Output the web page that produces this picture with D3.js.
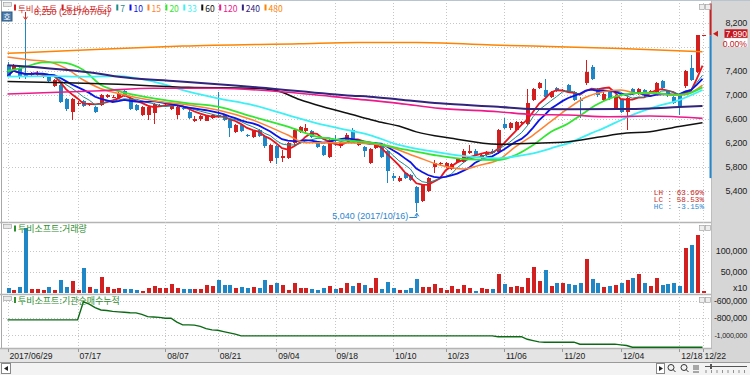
<!DOCTYPE html>
<html><head><meta charset="utf-8">
<script src="https://cdn.jsdelivr.net/npm/d3@7/dist/d3.min.js"></script>
<style>html,body{margin:0;padding:0;background:#fff;overflow:hidden}svg{display:block}</style>
</head><body>
<svg id="chart" width="750" height="375"></svg>
<script>
// ---------------- DATA ----------------
const stockName = "투비소프트";
const openP = [7490,7420,7440,7330,7340,7330,7300,7290,7150,7160, 6930,6720,6840,6890,6830,6800,6830,6960,6960,6950,
 7070,6940,6830,6660,6670,6690,6810,6810,6760,6660, 6780,6720,6570,6590,6570,6620,6660,6660,6580,6380,
 6490,6330,6300,6410,6310,5890,6140,5950,5950,6190, 6380,6390,6400,6190,6150,5970,6240,6140,6250,6410,
 6160,6130,5870,6110,6160,6060,5640,5570,5690,5660, 5460,5230,5400,5800,5850,5800,5760,5880,5880,6030,
 6070,5940,6000,6070,6040,6520,6440,6410,6530,6520, 6910,7110,7080,6970,7110,7070,7160,7050,6910,7190,
 7460,7100,6910,7050,6780,6910,6720,7100,7020,7080, 7040,7050,7230,7060,6970,6990,7140,7450,7380,7990];
const highP = [7540,7520,7460,8250,7380,7390,7370,7310,7270,7180, 6950,6950,6890,6910,6870,6820,7010,7020,6990,7040,
 7090,6950,6850,6820,6810,6870,6850,6850,6850,6820, 6800,6740,6640,6670,6670,6680,7050,6680,6590,6520,
 6510,6350,6420,6430,6330,6180,6160,6080,6210,6430, 6480,6510,6420,6210,6170,6260,6330,6220,6360,6440,
 6270,6150,6120,6210,6180,6080,5690,5640,5710,5680, 5480,5520,5630,5910,5880,5880,5870,5950,6090,6170,
 6090,6020,6070,6090,6430,6610,6550,6570,6560,7100, 7120,7210,7270,7070,7130,7100,7180,7070,6970,7580,
 7490,7120,7040,7070,6990,6930,6960,7120,7120,7100, 7080,7210,7250,7080,6990,7010,7410,7670,8000,7990];
const lowP = [7290,7400,7270,7270,7320,7310,7280,7200,7130,6860, 6730,6580,6820,6800,6810,6700,6810,6940,6940,6940,
 6960,6750,6730,6640,6580,6520,6790,6790,6740,6600, 6740,6600,6540,6570,6560,6600,6610,6560,6300,6360,
 6380,6290,6280,6290,6120,5870,5850,5880,5930,6170, 6360,6370,6280,6110,5980,5950,6150,6120,6230,6250,
 6140,5960,5850,6090,5950,5530,5560,5550,5590,5560, 5040,5210,5380,5690,5830,5780,5740,5860,5860,6010,
 5980,5920,5980,6010,6020,6430,6420,6390,6510,6500, 6890,7090,6950,6950,7040,7060,7030,6890,6610,7170,
 7250,6970,6890,6920,6760,6700,6420,7000,7000,6980, 7020,7030,7090,6970,6840,6660,7120,7230,7360,7990];
const closeP = [7310,7490,7300,7290,7350,7360,7350,7230,7250,6880, 6760,6930,6870,6820,6850,6720,6990,7000,6970,7020,
 6980,6770,6750,6800,6790,6850,6830,6830,6830,6800, 6760,6610,6600,6650,6650,6660,6630,6580,6440,6500,
 6400,6310,6400,6310,6140,6160,5950,5980,6190,6410, 6460,6440,6300,6130,6000,6240,6230,6200,6330,6270,
 6250,6070,6100,6190,5970,5730,5620,5620,5610,5580, 5190,5500,5610,5860,5860,5860,5850,5930,6070,6070,
 6000,6000,6050,6030,6410,6450,6530,6550,6540,6860, 7100,7190,6970,7050,7060,7080,7050,6910,6890,7380,
 7270,6990,7020,6940,6970,6720,6940,7020,7100,7000, 7060,7190,7110,6990,6860,6800,7390,7250,7990,7990];
const volume = [11900,7100,13500,152400,7900,9500,5600,13500,7100,28600, 13500,27000,7100,58700,13500,9500,37300,13500,9500,11100,
 9500,9500,7100,3200,11100,15900,11100,11100,19800,11900, 9500,9500,7900,7900,19000,15100,29400,18300,18300,11900,
 13500,10300,13500,10300,30200,17500,23800,18300,5600,22200, 11900,11900,8700,7100,10300,15100,8700,10300,23000,15100,
 22200,18300,11900,34900,8700,24600,11100,5600,5600,10300, 32500,13500,13500,20600,10300,5600,15100,9500,19000,11900,
 4000,10300,9500,9500,42900,20600,13500,15900,13500,34900, 61100,27800,54000,15100,23000,23000,20600,17500,23000,80200,
 31000,22200,13500,14600,16900,22300,29200,33800,43000,23000, 14600,35400,18500,20000,23000,15400,105000,114000,137000,3000];
const instCum = [-824000,-824000,-824000,-824000,-824000,-824000,-824000,-824000,-824000,-824000,
 -824000,-824000,-824000,-612000,-640000,-680000,-708000,-715000,-725000,-730000,
 -735000,-740000,-742000,-760000,-786000,-790000,-795000,-805000,-805000,-850000,
 -882000,-882000,-885000,-900000,-925000,-940000,-945000,-960000,-975000,-990000,
 -1010000,-1010000,-1010000,-1010000,-1010000,-1010000,-1010000,-1010000,-1010000,-1010000,
 -1010000,-1010000,-1010000,-1010000,-1010000,-1010000,-1010000,-1010000,-1010000,-1010000,
 -1010000,-1010000,-1010000,-1010000,-1010000,-1010000,-1010000,-1010000,-1010000,-1010000,
 -1010000,-1010000,-1010000,-1010000,-1010000,-1010000,-1010000,-1010000,-1010000,-1010000,
 -1010000,-1010000,-1010000,-1010000,-1020000,-1020000,-1020000,-1020000,-1020000,-1050000,
 -1065000,-1080000,-1084000,-1084000,-1084000,-1084000,-1084000,-1084000,-1107000,-1107000,
 -1107000,-1107000,-1107000,-1107000,-1107000,-1115000,-1123000,-1142000,-1142000,-1142000,
 -1142000,-1142000,-1142000,-1142000,-1142000,-1142000,-1142000,-1142000,-1142000,-1142000];
// long moving averages as [day index, value]
const ma15 = [[0,7630],[4,7580],[7,7550],[10,7440],[13,7245],[16,7100],[19,7020],[25,6900],[31,6830],[36,6745],[42,6578],[48,6328],[51,6200],[55,6200],[59,6195],[64,6160],[70,5967],[74,5828],[78,5760],[81,5830],[84,5911],[87,6133],[90,6328],[93,6550],[96,6772],[99,6957],[102,7050],[105,7078],[108,7022],[111,7022],[114,6990],[116,7000],[119,7161]];
const ma20 = [[0,7395],[3,7460],[6,7540],[9,7540],[13,7411],[16,7161],[19,7060],[25,6940],[31,6856],[36,6800],[42,6633],[48,6467],[53,6300],[59,6228],[62,6207],[67,6107],[73,5995],[79,5923],[84,5912],[87,5995],[90,6162],[93,6380],[96,6520],[98,6650],[101,6840],[104,6967],[107,7022],[110,7033],[114,7000],[116,7010],[119,7122]];
const ma33 = [[0,7300],[7,7311],[13,7300],[19,7311],[25,7217],[31,7050],[36,6940],[42,6828],[48,6661],[53,6522],[59,6395],[62,6328],[67,6162],[73,6050],[79,5967],[84,5940],[88,5990],[90,6023],[94,6133],[96,6190],[100,6360],[102,6440],[106,6620],[108,6700],[111,6800],[115,6911],[119,7078]];
const ma60 = [[0,7220],[10,7200],[19,7173],[31,7123],[42,7107],[46,7070],[50,6920],[54,6800],[59,6670],[62,6590],[64,6540],[67,6478],[70,6380],[76,6273],[84,6173],[90,6190],[96,6217],[101,6290],[106,6360],[110,6383],[115,6470],[119,6533]];
const ma120 = [[0,7011],[16,7067],[25,7107],[36,7107],[48,7040],[59,6935],[67,6856],[74,6772],[84,6717],[90,6670],[96,6661],[103,6633],[110,6645],[119,6606]];
const ma240 = [[0,7490],[16,7345],[19,7300],[29,7225],[36,7173],[43,7122],[59,6983],[62,6967],[67,6922],[74,6856],[84,6800],[90,6760],[96,6756],[105,6761],[110,6772],[114,6789],[119,6811]];
const ma480 = [[0,7690],[16,7757],[30,7810],[50,7850],[60,7870],[70,7872],[83,7828],[90,7811],[105,7772],[119,7717]];
const tickIdx = [0,12,27,36,46,56,66,75,85,95,105,115,119];
const tickLab = ["2017/06/29","07/17","08/07","08/21","09/04","09/18","10/10","10/23","11/06","11/20","12/04","12/18","12/22"];
const priceTicks = [5400,5800,6200,6600,7000,7400,7800,8200];
const volTicks = [50000,100000];
const instTicks = [-1000000,-800000,-600000];
const dateHigh = "2017/07/04", dateLow = "2017/10/16";
const rangeBar = [8520, 5610];
const maPeriods = [5,7,10,15,20,33,60,120,240,480];
const maColors = ["#e8141e","#1f8a8a","#0a14e6","#ff8232","#32e632","#3cf0f5","#111111","#ee1a8c","#32237d","#ff8200"];

// ---------------- SETUP ----------------
const N = closeP.length;
const svg = d3.select("#chart");
const fmt = d3.formatLocale({decimal:".", thousands:",", grouping:[3], currency:["",""], minus:"-"}).format(",");
const NUMF = "'Liberation Sans', Arial, sans-serif";
const KRF = "'Noto Sans CJK KR', sans-serif";
const UP = "#d21f1f", DN = "#1f87c5";

const x = d3.scaleLinear().domain([0, N-1]).range([7.5, 702.5]);
const yP = d3.scaleLinear().domain([5400, 8200]).range([190.7, 22.7]);
const yV = d3.scaleLinear().domain([0, 100000]).range([292.5, 250.5]);
const yI = d3.scaleLinear().domain([-1000000, -600000]).range([335, 300.7]);

// backgrounds
svg.append("rect").attr("width",750).attr("height",375).attr("fill","#ffffff");
svg.append("rect").attr("x",712).attr("y",0).attr("width",38).attr("height",362).attr("fill","#d6d6d6");
svg.append("rect").attr("x",0).attr("y",348).attr("width",712).attr("height",14).attr("fill","#e4e4e4");
svg.append("rect").attr("x",0).attr("y",362).attr("width",750).attr("height",13).attr("fill","#f3f3f3");
svg.append("line").attr("x1",0).attr("x2",750).attr("y1",362.5).attr("y2",362.5).attr("stroke","#9a9a9a");
svg.append("line").attr("x1",0).attr("x2",750).attr("y1",0.5).attr("y2",0.5).attr("stroke","#b8c4d0");
svg.append("line").attr("x1",1.5).attr("x2",1.5).attr("y1",0).attr("y2",348).attr("stroke","#a8a8a8");
[222.5, 294.5, 348.5].forEach(yy => svg.append("line").attr("x1",0).attr("x2",712).attr("y1",yy).attr("y2",yy)
  .attr("stroke","#b4b4b4").attr("stroke-width",1.5));
svg.append("line").attr("x1",711.5).attr("x2",711.5).attr("y1",0).attr("y2",348).attr("stroke","#bdbdbd");

// grids
const grid = svg.append("g").attr("stroke","#c6c6c6").attr("stroke-dasharray","1,2").attr("shape-rendering","crispEdges");
tickIdx.forEach(t => grid.append("line").attr("x1",Math.round(x(t))+0.5).attr("x2",Math.round(x(t))+0.5).attr("y1",3).attr("y2",348));
priceTicks.forEach(p => grid.append("line").attr("x1",3).attr("x2",711).attr("y1",Math.round(yP(p))+0.5).attr("y2",Math.round(yP(p))+0.5));
volTicks.forEach(v => grid.append("line").attr("x1",3).attr("x2",711).attr("y1",Math.round(yV(v))+0.5).attr("y2",Math.round(yV(v))+0.5));
instTicks.forEach(v => grid.append("line").attr("x1",3).attr("x2",711).attr("y1",Math.round(yI(v))+0.5).attr("y2",Math.round(yI(v))+0.5));

// clip for main panel
svg.append("clipPath").attr("id","mainClip").append("rect").attr("x",3).attr("y",3).attr("width",708).attr("height",219);

// ---------------- CANDLES ----------------
const idx = d3.range(N);
const cg = svg.append("g").attr("clip-path","url(#mainClip)").attr("shape-rendering","crispEdges");
idx.forEach(i => {
  const col = closeP[i] >= openP[i] ? UP : DN;
  const cx = Math.round(x(i));
  cg.append("line").attr("x1",cx+0.5).attr("x2",cx+0.5).attr("y1",yP(highP[i])).attr("y2",yP(lowP[i])).attr("stroke",col);
  const top = yP(Math.max(openP[i], closeP[i])), bot = yP(Math.min(openP[i], closeP[i]));
  cg.append("rect").attr("x",cx-1.5).attr("y",top).attr("width",4).attr("height",Math.max(1,bot-top)).attr("fill",col);
});

// ---------------- MOVING AVERAGES ----------------
const sma = (arr, n) => arr.map((_, i) => d3.mean(arr.slice(Math.max(0, i-n+1), i+1)));
const lineC = d3.line().x((d,i) => x(i)).y(d => yP(d));
const lineS = d3.line().x(d => x(d[0])).y(d => yP(d[1])).curve(d3.curveMonotoneX);
const mg = svg.append("g").attr("clip-path","url(#mainClip)").attr("fill","none");
const sampled = {15:ma15, 20:ma20, 33:ma33, 60:ma60, 120:ma120, 240:ma240, 480:ma480};
const widths = {5:1.8, 7:1, 10:1.8, 15:1.5, 20:1.8, 33:1.8, 60:1.5, 120:1.6, 240:2, 480:1.5};
maPeriods.forEach((n, k) => {
  const d = sampled[n] ? lineS(sampled[n]) : lineC(sma(closeP, n));
  mg.append("path").attr("d", d).attr("stroke", maColors[k]).attr("stroke-width", widths[n]);
});

// ---------------- HIGH / LOW ANNOTATIONS ----------------
const iH = d3.maxIndex(highP), iL = d3.minIndex(lowP);
const hiCol = "#c8281e", loCol = "#2c86cf";
svg.append("text").attr("x", x(iH)+9).attr("y", 15).attr("font-family",NUMF).attr("font-size","9px").attr("fill",hiCol)
  .text(fmt(highP[iH]) + " (" + dateHigh + ")");
svg.append("path").attr("d", `M${x(iH)+0.5},12V${yP(highP[iH])-1}`).attr("stroke",hiCol).attr("fill","none");
svg.append("path").attr("d", `M${x(iH)-1.5},${yP(highP[iH])-3}L${x(iH)+0.5},${yP(highP[iH])}L${x(iH)+2.5},${yP(highP[iH])-3}`).attr("stroke",hiCol).attr("fill","none");
svg.append("text").attr("x", x(iL)-8).attr("y", 219).attr("text-anchor","end").attr("font-family",NUMF)
  .attr("font-size","9px").attr("fill",loCol).text(fmt(lowP[iL]) + " (" + dateLow + ")");
svg.append("path").attr("d", `M${x(iL)-7},217.5H${x(iL)+0.5}V${yP(lowP[iL])+1}`).attr("stroke",loCol).attr("fill","none");
svg.append("path").attr("d", `M${x(iL)-1.5},${yP(lowP[iL])+4}L${x(iL)+0.5},${yP(lowP[iL])+1}L${x(iL)+2.5},${yP(lowP[iL])+4}`).attr("stroke",loCol).attr("fill","none");

// LH / LC / HC
const lastC = closeP[N-1];
const stats = [
  ["LH", (highP[iH]/lowP[iL]-1)*100, "#c8281e"],
  ["LC", (lastC/lowP[iL]-1)*100, "#c8281e"],
  ["HC", (lastC/highP[iH]-1)*100, "#2c86cf"]];
stats.forEach((s, k) => svg.append("text").attr("x",704).attr("y",195+k*7.2).attr("text-anchor","end")
  .attr("font-family","'Liberation Mono', monospace").attr("font-size","7.6px").attr("fill",s[2])
  .text(s[0] + " : " + s[1].toFixed(2) + "%"));

// ---------------- VOLUME ----------------
const vg = svg.append("g").attr("shape-rendering","crispEdges");
idx.forEach(i => {
  const col = closeP[i] >= openP[i] ? UP : DN;
  const cx = Math.round(x(i));
  vg.append("rect").attr("x",cx-1.5).attr("y",yV(volume[i])).attr("width",4.5)
    .attr("height",Math.max(0.5, yV(0)-yV(volume[i]))).attr("fill",col);
});

// ---------------- INSTITUTION CUMULATIVE ----------------
svg.append("path").attr("d", d3.line().x((d,i)=>x(i)).y(d=>yI(d))(instCum))
  .attr("fill","none").attr("stroke","#0b6a14").attr("stroke-width",1.4);

// ---------------- RIGHT AXES ----------------
const curY = yP(lastC);
const ax = svg.append("g").attr("font-family",NUMF).attr("fill","#222")
  .attr("text-anchor","end").attr("letter-spacing","-0.2px");
function axLabel(yy, s) {
  const t = ax.append("text").attr("x",747).attr("y",yy).attr("font-size","9px").text(s);
  const w = t.node().getComputedTextLength();
  if (w > 33) t.attr("font-size", (9*33/w).toFixed(2) + "px");
}
priceTicks.filter(p => Math.abs(yP(p)-curY) > 12).forEach(p => axLabel(yP(p)+3.3, fmt(p)));
volTicks.forEach(v => axLabel(yV(v)+3.3, fmt(v)));
axLabel(291, "x10");
instTicks.forEach(v => axLabel(yI(v)+3.3, fmt(v)));

// price range bar and current price tag
svg.append("line").attr("x1",710.5).attr("x2",710.5).attr("y1",yP(rangeBar[0])).attr("y2",curY).attr("stroke","#c81e1e").attr("stroke-width",2);
svg.append("line").attr("x1",710.5).attr("x2",710.5).attr("y1",curY).attr("y2",yP(rangeBar[1])).attr("stroke","#2288cc").attr("stroke-width",2);
svg.append("path").attr("d",`M713,${curY-1.5}L718,${curY-4.5}L718,${curY+1.5}Z`).attr("fill","#c81e1e");
svg.append("rect").attr("x",724.5).attr("y",curY-6).attr("width",23).attr("height",8.5).attr("fill","#c4161c");
svg.append("text").attr("x",747).attr("y",curY+1.3).attr("text-anchor","end").attr("font-family",NUMF).attr("font-size","8.6px")
  .attr("fill","#fff").text(fmt(lastC));
svg.append("rect").attr("x",724.5).attr("y",curY+3).attr("width",23).attr("height",8.5).attr("fill","#fff");
svg.append("text").attr("x",747).attr("y",curY+11.2).attr("text-anchor","end").attr("font-family",NUMF).attr("font-size","8.6px")
  .attr("fill","#c4161c").text(((lastC/closeP[N-2]-1)*100).toFixed(2) + "%");

// ---------------- X AXIS ----------------
const xg = svg.append("g").attr("font-family",NUMF).attr("font-size","8.6px").attr("fill","#222");
tickIdx.forEach((t, k) => {
  xg.append("line").attr("x1",Math.round(x(t))+0.5).attr("x2",Math.round(x(t))+0.5).attr("y1",349).attr("y2",352).attr("stroke","#999");
  xg.append("text").attr("x",x(t)+2).attr("y",358.5).text(tickLab[k]);
});

// ---------------- LEGENDS ----------------
const legItems = [[stockName, UP]].concat(maPeriods.map((n,k) => [k===0 ? stockName + ":" + n : String(n), k===0 ? UP : maColors[k]]));
let lx = 14;
const lg = svg.append("g").attr("font-family",KRF).attr("font-size","8.5px");
legItems.forEach(it => {
  lg.append("rect").attr("x",lx).attr("y",4.5).attr("width",2).attr("height",6).attr("fill",it[1]);
  const t = lg.append("text").attr("x",lx+4).attr("y",11.5).attr("fill",it[1]).text(it[0]);
  lx += 4 + t.node().getComputedTextLength() + 4.5;
});
const subTitles = [[stockName + ":거래량", 232], [stockName + ":기관순매수누적", 303.5]];
subTitles.forEach(s => {
  lg.append("rect").attr("x",14).attr("y",s[1]-6.5).attr("width",2).attr("height",6).attr("fill","#2f8f2f");
  lg.append("text").attr("x",18).attr("y",s[1]).attr("fill","#2f8f2f").attr("font-size","9px").text(s[0]);
});

// ---------------- SMALL UI ICONS ----------------
const ui = svg.append("g");
[2, 224, 296].forEach(yy => {
  ui.append("rect").attr("x",3.5).attr("y",yy+0.5).attr("width",8).attr("height",4).attr("fill","#e8e8e8").attr("stroke","#9a9a9a").attr("stroke-width",0.6);
});
ui.append("rect").attr("x",2).attr("y",12).attr("width",10).attr("height",9).attr("fill","#4f7fae").attr("stroke","#2d5a85");
ui.append("text").attr("x",7).attr("y",19.5).attr("text-anchor","middle").attr("font-family",KRF).attr("font-size","7.5px").attr("fill","#fff").text("호");
[4, 225, 297].forEach(yy => {
  [699, 705].forEach(xx => ui.append("rect").attr("x",xx+0.5).attr("y",yy+0.5).attr("width",5).attr("height",5)
    .attr("fill","#eeeeee").attr("stroke","#9a9a9a").attr("stroke-width",0.6));
});
// scroll bar controls
ui.append("rect").attr("x",1.5).attr("y",363.5).attr("width",9).attr("height",10).attr("fill","#fff").attr("stroke","#888");
ui.append("path").attr("d","M8,366L4,368.5L8,371Z").attr("fill","#222");
ui.append("rect").attr("x",656.5).attr("y",363.5).attr("width",8).attr("height",10).attr("fill","#fff").attr("stroke","#888");
ui.append("path").attr("d","M659,366L663,368.5L659,371Z").attr("fill","#222");
[671, 684].forEach(xx => {
  ui.append("circle").attr("cx",xx).attr("cy",367.5).attr("r",3).attr("fill","none").attr("stroke","#333");
  ui.append("line").attr("x1",xx+2).attr("y1",369.5).attr("x2",xx+4.5).attr("y2",372).attr("stroke","#333");
});
ui.append("path").attr("d","M694,365v5M696,365v5M698,365v5M693,372h6").attr("stroke","#333").attr("stroke-width",0.8);
ui.append("line").attr("x1",705).attr("x2",747).attr("y1",366.5).attr("y2",366.5).attr("stroke","#555");
ui.append("rect").attr("x",710).attr("y",364).attr("width",2).attr("height",5).attr("fill","#555");
d3.range(8).forEach(k => ui.append("line").attr("x1",706+k*5.5).attr("x2",706+k*5.5).attr("y1",370).attr("y2",373).attr("stroke","#666").attr("stroke-width",0.7));
</script>
</body></html>
